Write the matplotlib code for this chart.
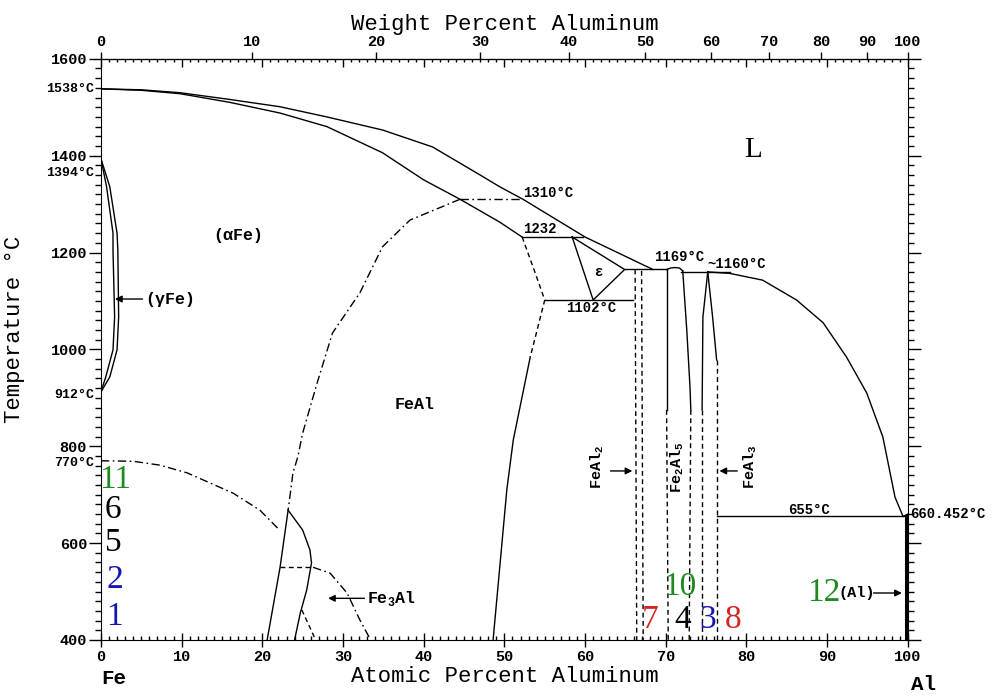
import numpy as np
import matplotlib.pyplot as plt
from matplotlib.ticker import MultipleLocator

plt.rcParams['font.family'] = ['Liberation Mono', 'DejaVu Sans Mono']
plt.rcParams['font.weight'] = 'bold'

# Fe-Al phase diagram, atomic % Al vs temperature (deg C)
liq_fe_x = [0, 5, 9.8, 16, 22.2, 28, 34.9, 41.1, 47.0, 49.4, 52.3, 60.0, 68.4]
liq_fe_t = [1538, 1536, 1530, 1516, 1501, 1480, 1453, 1418, 1360, 1336, 1310, 1232, 1165]
sol_x = [0, 5, 9.8, 16, 22.2, 28, 34.9, 40, 44.5, 49.4, 52.2]
sol_t = [1538, 1535, 1528, 1510, 1488, 1460, 1406, 1350, 1310, 1263, 1232]
liq_al_x = [75.2, 77.9, 82.0, 86.2, 89.5, 92.4, 94.9, 96.9, 98.4, 99.4, 100]
liq_al_t = [1160, 1157, 1143, 1102, 1055, 984, 910, 819, 695, 655, 660]

gam_t = [1394, 1336, 1240, 1205, 1067, 999, 943, 912]
gam_out_x = [0, 1.1, 2.0, 2.1, 2.2, 2.0, 1.1, 0]
gam_in_x = [0, 0.7, 1.5, 1.5, 1.7, 1.5, 0.6, 0]

ord_x = [44.5, 38.3, 34.9, 32.1, 28.7, 26.8, 25.0, 24.4, 23.8, 23.2]
ord_t = [1310, 1267, 1212, 1117, 1034, 931, 827, 778, 745, 668]

curie1_x = [0, 4, 7.3, 10.7, 16.4, 19.7, 21.9]
curie1_t = [770, 769, 761, 745, 703, 668, 631]
curie2_x = [26.3, 28.4, 30.5, 32.1, 33.3]
curie2_t = [550, 538, 497, 441, 404]

fe3al_l_x = [23.2, 22.2, 20.6]
fe3al_l_t = [668, 550, 400]
fe3al_r_x = [23.2, 25.0, 25.9, 26.1, 25.5, 24.7, 24.0]
fe3al_r_t = [668, 627, 586, 559, 503, 455, 400]
fe3al_d_x = [24.9, 26.5]
fe3al_d_t = [462, 404]

feal_dash_x = [52.2, 53.6, 55.0, 53.2]
feal_dash_t = [1232, 1168, 1102, 984]
feal_sol_x = [53.2, 51.1, 50.3, 48.6]
feal_sol_t = [984, 813, 710, 400]

eps_x = [58.4, 61.0, 64.9, 58.4]
eps_t = [1232, 1102, 1165, 1232]

dome_x = [70.1, 70.6, 71.1, 71.7, 72.1]
dome_t = [1165, 1168, 1169, 1168, 1162]
fe2al5_r_x = [72.1, 72.6, 73.0, 73.1]
fe2al5_r_t = [1162, 1040, 922, 875]
feal3_l_x = [75.2, 74.6, 74.5]
feal3_l_t = [1160, 1067, 875]
feal3_r_x = [75.2, 75.8, 76.3]
feal3_r_t = [1160, 1067, 978]

# horizontal invariants: (x start, x end, temperature)
iso_lines = [(52.2, 59.8, 1232), (55.0, 65.9, 1102), (64.9, 70.1, 1165),
             (71.9, 77.9, 1160), (76.3, 100, 655)]

# dashed low temperature boundaries: (x top, t top, x bottom)
dash_lines = [(66.2, 1165, 66.4), (67.0, 1162, 67.2), (70.1, 875, 70.3),
              (73.1, 875, 72.9), (74.5, 875, 74.5), (76.3, 978, 76.3)]


def at2wt(a):
    a = np.clip(a, 0, 100)
    return 100 * a * 26.98 / (a * 26.98 + (100 - a) * 55.845)


def wt2at(w):
    w = np.clip(w, 0, 100)
    return 100 * (w / 26.98) / (w / 26.98 + (100 - w) / 55.845)


fig = plt.figure(figsize=(9.99, 6.96), dpi=100)
ax = fig.add_axes([0.101, 0.0805, 0.8078, 0.835])
ax.set_xlim(0, 100)
ax.set_ylim(400, 1600)

k = dict(color='black', lw=1.0)
dd = (0, (3.5, 2.5))
dashdot = (0, (6, 2.5, 1.2, 2.5))

ax.plot(liq_fe_x, liq_fe_t, **k)
ax.plot(sol_x, sol_t, **k)
ax.plot(liq_al_x, liq_al_t, **k)
ax.plot(gam_out_x, gam_t, **k)
ax.plot(gam_in_x, gam_t, **k)
ax.plot(ord_x, ord_t, ls=dashdot, **k)
ax.plot([44.5, 52.3], [1310, 1310], ls=dashdot, **k)
ax.plot(curie1_x, curie1_t, ls=dashdot, **k)
ax.plot(curie2_x, curie2_t, ls=dashdot, **k)
ax.plot(fe3al_l_x, fe3al_l_t, **k)
ax.plot(fe3al_r_x, fe3al_r_t, **k)
ax.plot([22.2, 26.3], [550, 550], ls=dd, **k)
ax.plot(fe3al_d_x, fe3al_d_t, ls=dd, **k)
ax.plot(feal_dash_x, feal_dash_t, ls=dd, **k)
ax.plot(feal_sol_x, feal_sol_t, **k)
ax.plot(eps_x, eps_t, **k)
ax.plot(dome_x, dome_t, **k)
ax.plot([70.1, 70.1], [1165, 875], **k)
ax.plot(fe2al5_r_x, fe2al5_r_t, **k)
ax.plot(feal3_l_x, feal3_l_t, **k)
ax.plot(feal3_r_x, feal3_r_t, **k)
for x0, x1, t in iso_lines:
    ax.plot([x0, x1], [t, t], **k)
for x0, t0, x1 in dash_lines:
    ax.plot([x0, x1], [t0, 400], ls=dd, **k)
ax.plot([99.8, 99.8], [400, 655], color='black', lw=2.2)

# ticks
ax.xaxis.set_major_locator(MultipleLocator(10))
ax.xaxis.set_minor_locator(MultipleLocator(1))
ax.yaxis.set_major_locator(MultipleLocator(200))
ax.yaxis.set_minor_locator(MultipleLocator(20))
ax.tick_params(axis='x', which='major', direction='inout', length=10, width=1, labelsize=11, pad=2)
ax.tick_params(axis='x', which='minor', direction='in', length=3, width=1)
ax.tick_params(axis='y', which='major', direction='out', length=9, width=1, labelsize=11, pad=1, right=True)
ax.tick_params(axis='y', which='minor', direction='out', length=4, width=1, right=True)

top_at = ax.secondary_xaxis('top')
top_at.xaxis.set_major_locator(MultipleLocator(10))
top_at.xaxis.set_minor_locator(MultipleLocator(1))
top_at.tick_params(which='major', direction='in', length=6, width=1, labeltop=False)
top_at.tick_params(which='minor', direction='in', length=2.5, width=1)

top_wt = ax.secondary_xaxis('top', functions=(at2wt, wt2at))
top_wt.set_xticks(np.arange(0, 101, 10))
top_wt.tick_params(direction='out', length=5, width=1, labelsize=11, pad=2)
top_wt.set_xlabel('Weight Percent Aluminum', fontsize=16, labelpad=4)

ax.set_xlabel('Atomic Percent Aluminum', fontsize=16, labelpad=2)
ax.set_ylabel('Temperature °C', fontsize=16, family=['Liberation Mono', 'DejaVu Sans Mono'],
              fontweight='normal', labelpad=4)
ax.yaxis.set_label_coords(-0.094, 0.534)

# left side temperature notes
for txt, t in [('1538°C', 1538), ('1394°C', 1365), ('912°C', 905), ('770°C', 765)]:
    ax.text(-0.8, t, txt, ha='right', va='center', fontsize=9.5, clip_on=False)

ax.text(0.0, -0.066, 'Fe', transform=ax.transAxes, ha='left', va='center', fontsize=15)
ax.text(1.019, -0.077, 'Al', transform=ax.transAxes, ha='center', va='center', fontsize=15)

# phase labels
ax.text(80.8, 1412, 'L', family=['Liberation Serif'], fontweight='normal', fontsize=21,
        ha='center', va='center')
ax.text(17.0, 1236, '(αFe)', fontsize=12, ha='center', va='center')
ax.text(38.9, 887, 'FeAl', fontsize=12, ha='center', va='center')
ax.text(61.6, 1160, 'ε', fontsize=10, ha='center', va='center')
ax.text(5.5, 1104, '(γFe)', fontsize=12, ha='left', va='center')
ax.annotate('', xy=(1.4, 1104), xytext=(5.5, 1104),
            arrowprops=dict(arrowstyle='-|>', color='black', lw=1, mutation_scale=10))
ax.text(33.0, 486, r'Fe$_\mathregular{3}$Al', fontsize=12, ha='left', va='center')
ax.annotate('', xy=(27.8, 486), xytext=(33.0, 486),
            arrowprops=dict(arrowstyle='-|>', color='black', lw=1, mutation_scale=10))
ax.text(61.5, 757, r'FeAl$_\mathregular{2}$', fontsize=11, rotation=90, ha='center', va='center')
ax.annotate('', xy=(66.2, 749), xytext=(62.8, 749),
            arrowprops=dict(arrowstyle='-|>', color='black', lw=1, mutation_scale=10))
ax.text(71.4, 757, r'Fe$_\mathregular{2}$Al$_\mathregular{5}$', fontsize=11, rotation=90,
        ha='center', va='center')
ax.text(80.4, 757, r'FeAl$_\mathregular{3}$', fontsize=11, rotation=90, ha='center', va='center')
ax.annotate('', xy=(76.3, 749), xytext=(79.2, 749),
            arrowprops=dict(arrowstyle='-|>', color='black', lw=1, mutation_scale=10))
ax.text(91.4, 497, '(Al)', fontsize=11, ha='left', va='center')
ax.annotate('', xy=(99.6, 497), xytext=(95.4, 497),
            arrowprops=dict(arrowstyle='-|>', color='black', lw=1, mutation_scale=10))

# invariant temperatures
ax.text(52.3, 1322, '1310°C', fontsize=10, ha='left', va='center')
ax.text(52.3, 1249, '1232', fontsize=10, ha='left', va='center')
ax.text(68.6, 1190, '1169°C', fontsize=10, ha='left', va='center')
ax.text(75.1, 1176, '~1160°C', fontsize=10, ha='left', va='center')
ax.text(57.7, 1085, '1102°C', fontsize=10, ha='left', va='center')
ax.text(85.1, 668, '655°C', fontsize=10, ha='left', va='center')
ax.text(100.3, 661, '660.452°C', fontsize=10, ha='left', va='center', clip_on=False)

# coloured sample numbers
green, blue, red = '#1f8a1f', '#1414b4', '#d42424'
serif = ['Liberation Serif', 'DejaVu Serif']
for txt, x, t, c in [('11', 1.8, 730, green), ('6', 1.5, 668, 'black'), ('5', 1.5, 600, 'black'),
                     ('2', 1.7, 524, blue), ('1', 1.7, 447, blue),
                     ('7', 68.0, 441, red), ('4', 72.1, 441, 'black'), ('3', 75.2, 441, blue),
                     ('8', 78.3, 441, red), ('10', 71.7, 509, green), ('12', 89.6, 497, green)]:
    ax.text(x, t, txt, color=c, family=serif, fontweight='normal', fontsize=24,
            ha='center', va='center')

fig.savefig('out.png', dpi=100)
